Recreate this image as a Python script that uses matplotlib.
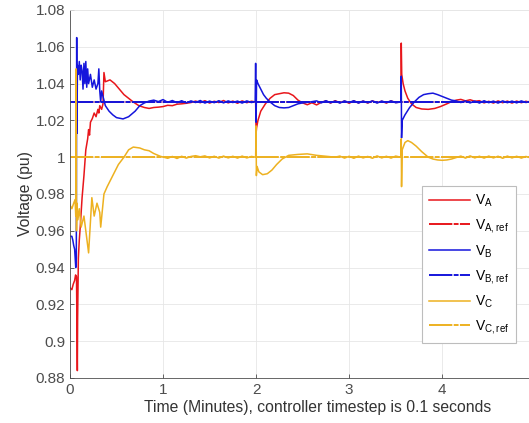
import matplotlib
matplotlib.use('Agg')
import matplotlib.pyplot as plt

plt.rcParams['font.family'] = ['Liberation Sans', 'DejaVu Sans']
plt.rcParams['mathtext.default'] = 'regular'

## DADOS
# V_A
t_a = [0, 0.02, 0.035, 0.05, 0.06, 0.07, 0.079, 0.082, 0.09, 0.1, 0.11, 0.13, 0.15, 0.17, 0.19,
       0.2, 0.21, 0.22, 0.24, 0.26, 0.28, 0.3, 0.31, 0.32, 0.34, 0.355, 0.365, 0.38, 0.43, 0.48,
       0.53, 0.58, 0.63, 0.68, 0.74, 0.8, 0.85, 0.9, 0.95, 1.0, 1.05, 1.1, 1.15, 1.2, 1.25, 1.3,
       1.35, 1.4, 1.45, 1.5, 1.55, 1.6, 1.65, 1.7, 1.75, 1.8, 1.85, 1.9, 1.95, 1.995,
       2.0, 2.005, 2.02, 2.05, 2.1, 2.15, 2.2, 2.25, 2.3, 2.35, 2.4, 2.45, 2.5, 2.55, 2.6,
       2.65, 2.7, 2.75, 2.8, 2.85, 2.9, 2.95, 3.0, 3.05, 3.1, 3.15, 3.2, 3.25, 3.3, 3.35,
       3.4, 3.45, 3.5, 3.555, 3.56, 3.565, 3.58, 3.6, 3.63, 3.67, 3.72, 3.78, 3.85, 3.92,
       3.98, 4.05, 4.1, 4.15, 4.2, 4.25, 4.3, 4.35, 4.4, 4.45, 4.5, 4.55, 4.6, 4.65, 4.7, 4.75,
       4.8, 4.85, 4.9, 4.95, 5.0, 5.1, 5.2, 5.33]
v_a = [0.929, 0.928, 0.931, 0.933, 0.936, 0.935, 0.884, 0.912, 0.945, 0.955, 0.962, 0.978, 0.990, 1.004, 1.010,
       1.015, 1.012, 1.019, 1.021, 1.024, 1.022, 1.026, 1.024, 1.028, 1.026, 1.029, 1.046, 1.041, 1.042, 1.040,
       1.037, 1.034, 1.032, 1.030, 1.028, 1.027, 1.0265, 1.027, 1.0272, 1.0275, 1.0282, 1.028, 1.0288, 1.029, 1.0293, 1.0297,
       1.0305, 1.0296, 1.0307, 1.0294, 1.0304, 1.0297, 1.0308, 1.0295, 1.0305, 1.0293, 1.0306, 1.0296, 1.0304, 1.030,
       1.013, 1.016, 1.020, 1.025, 1.029, 1.032, 1.034, 1.0345, 1.035, 1.0348, 1.0335, 1.031, 1.0295, 1.0285, 1.0296,
       1.0284, 1.0298, 1.0306, 1.0294, 1.0307, 1.0296, 1.0305, 1.0293, 1.0306, 1.0295, 1.0305, 1.0294, 1.0306, 1.0297, 1.0304,
       1.0294, 1.0306, 1.0297, 1.030, 1.062, 1.045, 1.040, 1.036, 1.032, 1.029, 1.027, 1.0262, 1.026, 1.0265,
       1.0275, 1.029, 1.0302, 1.031, 1.0314, 1.0306, 1.0312, 1.0304, 1.0307, 1.0295, 1.0304, 1.0294, 1.0306, 1.0296, 1.0305, 1.0294,
       1.0305, 1.0296, 1.0304, 1.0297, 1.0303, 1.0296, 1.0304, 1.030]

# V_B
t_b = [0, 0.02, 0.03, 0.04, 0.05, 0.062, 0.068, 0.072, 0.075, 0.08, 0.09, 0.1, 0.11, 0.12, 0.13,
       0.14, 0.15, 0.16, 0.17, 0.18, 0.19, 0.2, 0.22, 0.24, 0.26, 0.28, 0.3, 0.31, 0.32, 0.33,
       0.34, 0.36, 0.38, 0.42, 0.46, 0.5, 0.57, 0.63, 0.7, 0.75, 0.8, 0.85, 0.9, 0.95,
       1.0, 1.05, 1.1, 1.15, 1.2, 1.25, 1.3, 1.35, 1.4, 1.45, 1.5, 1.55, 1.6, 1.65, 1.7, 1.75,
       1.8, 1.85, 1.9, 1.95, 1.99, 1.995, 2.0, 2.005, 2.02, 2.05, 2.08, 2.11, 2.15, 2.2, 2.25,
       2.3, 2.35, 2.4, 2.45, 2.5, 2.58, 2.65, 2.7, 2.75, 2.8, 2.85, 2.9, 2.95, 3.0, 3.05, 3.1,
       3.15, 3.2, 3.25, 3.3, 3.35, 3.4, 3.45, 3.5, 3.555, 3.56, 3.563, 3.57, 3.6, 3.65, 3.7,
       3.75, 3.8, 3.85, 3.9, 3.95, 4.0, 4.05, 4.1, 4.15, 4.2, 4.25, 4.3, 4.35, 4.4, 4.45, 4.5,
       4.55, 4.6, 4.65, 4.7, 4.75, 4.8, 4.85, 4.9, 4.95, 5.0, 5.1, 5.2, 5.33]
v_b = [0.957, 0.957, 0.955, 0.952, 0.950, 0.940, 0.945, 1.065, 1.013, 1.050, 1.045, 1.052, 1.042, 1.050, 1.047,
       1.037, 1.051, 1.040, 1.052, 1.038, 1.048, 1.040, 1.045, 1.038, 1.042, 1.037, 1.040, 1.048, 1.036, 1.030,
       1.036, 1.032, 1.028, 1.025, 1.023, 1.0215, 1.0208, 1.022, 1.025, 1.028, 1.0295, 1.0305, 1.031, 1.0302,
       1.0313, 1.0298, 1.0308, 1.0296, 1.0307, 1.0295, 1.0306, 1.0297, 1.0308, 1.0294, 1.0305, 1.0296, 1.0307, 1.0295, 1.0306, 1.0297,
       1.0305, 1.0294, 1.0306, 1.0297, 1.0302, 1.051, 1.019, 1.042, 1.040, 1.037, 1.034, 1.032, 1.030, 1.028, 1.027,
       1.0268, 1.027, 1.028, 1.029, 1.0295, 1.030, 1.0306, 1.0295, 1.0307, 1.0296, 1.0305, 1.0294, 1.0306, 1.0297, 1.0307, 1.0294,
       1.0305, 1.0296, 1.0306, 1.0294, 1.0305, 1.0297, 1.0306, 1.0296, 1.030, 1.044, 1.0105, 1.020, 1.023, 1.027, 1.030,
       1.0325, 1.034, 1.0345, 1.0348, 1.034, 1.033, 1.032, 1.031, 1.0306, 1.0297, 1.0306, 1.0295, 1.0305, 1.0294, 1.0307, 1.0296,
       1.0305, 1.0294, 1.0306, 1.0296, 1.0305, 1.0295, 1.0306, 1.0297, 1.0305, 1.0296, 1.0304, 1.0297, 1.030]

# V_C
t_c = [0, 0.02, 0.04, 0.055, 0.062, 0.066, 0.07, 0.075, 0.085, 0.1, 0.12, 0.15, 0.175, 0.2, 0.235,
       0.26, 0.29, 0.32, 0.33, 0.365, 0.4, 0.46, 0.52, 0.58, 0.63, 0.68, 0.75, 0.8, 0.85, 0.9,
       0.97, 1.05, 1.1, 1.15, 1.2, 1.25, 1.3, 1.35, 1.4, 1.45, 1.5, 1.55, 1.6, 1.65, 1.7, 1.75,
       1.8, 1.85, 1.9, 1.95, 1.995, 2.0, 2.003, 2.01, 2.03, 2.07, 2.12, 2.17, 2.22, 2.28, 2.35,
       2.45, 2.55, 2.65, 2.75, 2.85, 2.9, 2.95, 3.0, 3.05, 3.1, 3.15, 3.2, 3.25, 3.3, 3.35,
       3.4, 3.45, 3.5, 3.555, 3.56, 3.563, 3.57, 3.6, 3.63, 3.67, 3.72, 3.78, 3.85, 3.9, 3.95,
       4.0, 4.05, 4.1, 4.2, 4.25, 4.3, 4.35, 4.4, 4.45, 4.5, 4.55, 4.6, 4.65, 4.7, 4.75, 4.8,
       4.85, 4.9, 4.95, 5.0, 5.1, 5.2, 5.33]
v_c = [0.974, 0.972, 0.975, 0.977, 0.968, 1.048, 0.960, 0.975, 0.966, 0.972, 0.962, 0.968, 0.958, 0.948, 0.978,
       0.968, 0.975, 0.970, 0.962, 0.980, 0.984, 0.990, 0.996, 1.000, 1.004, 1.0055, 1.005, 1.004, 1.0035, 1.002,
       1.0005, 0.9994, 1.0004, 0.9993, 1.0005, 0.9995, 1.0004, 1.0008, 1.0002, 1.0007, 0.9996, 1.0005, 0.9995, 1.0006, 0.9996, 1.0005,
       0.9995, 1.0006, 0.9996, 1.0004, 1.0, 1.017, 0.990, 0.995, 0.992, 0.9905, 0.991, 0.993, 0.996, 0.999, 1.001,
       1.0015, 1.0018, 1.001, 1.0005, 1.0, 1.0006, 0.9995, 1.0005, 0.9994, 1.0006, 0.9996, 1.0004, 0.9994, 1.0007, 0.9996,
       1.0005, 0.9995, 1.0006, 1.0, 1.010, 0.984, 1.004, 1.008, 1.009, 1.008, 1.006, 1.003, 1.000, 0.999, 0.9985,
       0.9983, 0.9985, 0.999, 1.0006, 0.9995, 1.0007, 0.9996, 1.0005, 0.9995, 1.0006, 0.9996, 1.0005, 0.9994, 1.0006, 0.9996, 1.0005,
       0.9995, 1.0004, 0.9996, 1.0005, 0.9997, 1.0004, 1.0]

# referências
t_ref = [0, 5.33]
ref_a = [1.03, 1.03]
ref_b = [1.03, 1.03]
ref_c = [1.0, 1.0]

red = '#e8161b'
blue = '#1515dc'
yellow = '#edb120'
dashdot = (0, (12, 0.7, 2.5, 0.7))

fig = plt.figure(figsize=(5.29, 4.23), dpi=100)
ax = fig.add_axes([0.1323, 0.1064, 0.9376, 0.870])

ax.plot(t_a, v_a, color=red, lw=1.1, label='$V_A$')
ax.plot(t_ref, ref_a, color=red, lw=1.4, ls=dashdot, label='$V_{A,ref}$')
ax.plot(t_b, v_b, color=blue, lw=1.1, label='$V_B$')
ax.plot(t_ref, ref_b, color=blue, lw=1.4, ls=dashdot, label='$V_{B,ref}$')
ax.plot(t_c, v_c, color=yellow, lw=1.1, label='$V_C$')
ax.plot(t_ref, ref_c, color=yellow, lw=1.4, ls=dashdot, label='$V_{C,ref}$')

ax.set_xlim(0, 5.33)
ax.set_ylim(0.88, 1.08)
ax.set_xticks([0, 1, 2, 3, 4, 5])
ax.set_xticklabels(['0', '1', '2', '3', '4', ''])
ax.set_yticks([0.88, 0.9, 0.92, 0.94, 0.96, 0.98, 1.0, 1.02, 1.04, 1.06, 1.08])
ax.set_yticklabels(['0.88', '0.9', '0.92', '0.94', '0.96', '0.98', '1', '1.02', '1.04', '1.06', '1.08'])
ax.tick_params(labelsize=11, colors='#4d4d4d', direction='in', length=3, width=0.6)
ax.grid(True, color='#e6e6e6', lw=0.6)
ax.set_axisbelow(True)
for s in ax.spines.values():
    s.set_color('#4d4d4d')
    s.set_linewidth(0.6)
ax.spines['top'].set_color('#e6e6e6')

ax.set_xlabel('Time (Minutes), controller timestep is 0.1 seconds', fontsize=11.3, color='#333333', labelpad=2)
ax.set_ylabel('Voltage (pu)', fontsize=11.3, color='#333333', labelpad=2)

leg = ax.legend(loc='lower right', bbox_to_anchor=(0.899, 0.095), fontsize=10, fancybox=False,
                framealpha=1, edgecolor='#bdbdbd', handlelength=3.0, labelspacing=0.58,
                borderaxespad=0, handletextpad=0.3, borderpad=0.5)
leg.get_frame().set_linewidth(0.8)

fig.savefig('out.png', dpi=100)
